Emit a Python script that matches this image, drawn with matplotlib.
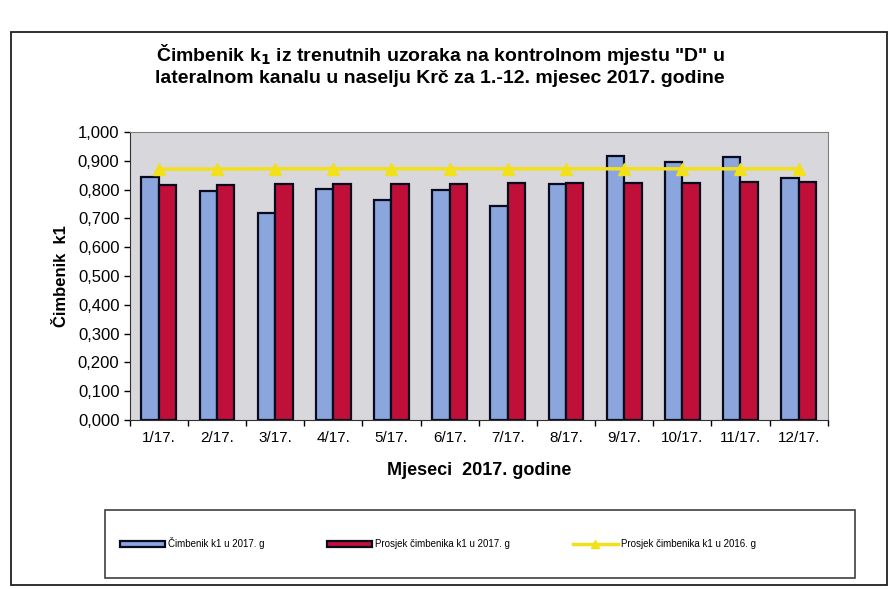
import matplotlib
matplotlib.use("Agg")
import matplotlib.pyplot as plt
from matplotlib.patches import Rectangle
import numpy as np

months = ["1/17.", "2/17.", "3/17.", "4/17.", "5/17.", "6/17.",
          "7/17.", "8/17.", "9/17.", "10/17.", "11/17.", "12/17."]
k1_2017 = [0.843, 0.794, 0.720, 0.801, 0.763, 0.800,
           0.742, 0.820, 0.917, 0.897, 0.912, 0.840]
avg_2017 = [0.816, 0.816, 0.818, 0.819, 0.819, 0.819,
            0.821, 0.821, 0.823, 0.824, 0.825, 0.826]
avg_2016 = [0.871, 0.871, 0.872, 0.872, 0.872, 0.872,
            0.872, 0.872, 0.872, 0.872, 0.872, 0.872]

plt.rcParams["font.family"] = ["Liberation Sans", "DejaVu Sans"]

fig = plt.figure(figsize=(8.89, 5.89), dpi=100)
ax = fig.add_axes([0.146, 0.287, 0.785, 0.489])
ax.set_facecolor("#d8d8dc")

x = np.arange(len(months))
w = 0.30
b1 = ax.bar(x - w / 2, k1_2017, w, color="#8aa6dc", edgecolor="#0a0a1e", lw=1.6,
            label="Čimbenik k1 u 2017. g", zorder=2)
b2 = ax.bar(x + w / 2, avg_2017, w, color="#c0103a", edgecolor="#0a0a1e", lw=1.6,
            label="Prosjek čimbenika k1 u 2017. g", zorder=2)
ln, = ax.plot(x, avg_2016, color="#f2e01a", lw=2.5, marker="^", ms=9,
              label="Prosjek čimbenika k1 u 2016. g", zorder=3)

ax.set_xlim(-0.5, len(months) - 0.5)
ax.set_ylim(0, 1.0)
yt = np.arange(0, 1.01, 0.1)
ax.set_yticks(yt)
ax.set_yticklabels([f"{v:.3f}".replace(".", ",") for v in yt], fontsize=12)
ax.set_xticks(x)
ax.set_xticklabels(months, fontsize=11)
ax.set_xticks(np.arange(-0.5, len(months), 1), minor=True)
ax.tick_params(axis="x", which="major", length=0, pad=8)
ax.tick_params(axis="x", which="minor", length=4, width=1)
ax.tick_params(axis="y", length=4, width=1)
for s in ["top", "right"]:
    ax.spines[s].set_color("#808080")
ax.spines["left"].set_color("#303030")
ax.spines["bottom"].set_color("#303030")

ax.set_ylabel("Čimbenik  k1", fontsize=12, fontweight="bold", labelpad=6)
ax.set_xlabel("Mjeseci  2017. godine", fontsize=13, fontweight="bold", labelpad=12)

fig.text(0.495, 0.891,
         "Čimbenik k$_\\mathbf{1}$ iz trenutnih uzoraka na kontrolnom mjestu \"D\" u\n"
         "lateralnom kanalu u naselju Krč za 1.-12. mjesec 2017. godine",
         ha="center", va="center", fontsize=14, fontweight="bold",
         linespacing=1.2)

# legend frame drawn separately, entries placed inside it
fig.patches.append(Rectangle((0.118, 0.019), 0.844, 0.115, transform=fig.transFigure,
                             fill=False, edgecolor="#404040", lw=1.2))
fig.legend(handles=[b1, b2, ln], loc="center left",
           bbox_to_anchor=(0.125, 0.078), ncol=3, fontsize=7,
           frameon=False, handlelength=4.6, handleheight=0.6,
           handletextpad=0.3, columnspacing=6.5, markerscale=0.6)

fig.patches.append(Rectangle((0.012, 0.006), 0.986, 0.94, transform=fig.transFigure,
                             fill=False, edgecolor="#202020", lw=1.3))

fig.savefig("out.png", dpi=100, facecolor="white")
